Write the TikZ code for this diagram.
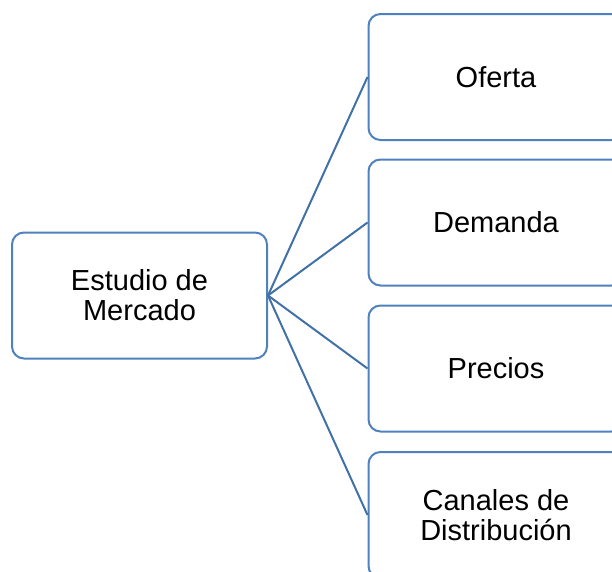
\documentclass[tikz,border=0pt]{standalone}
\usepackage{fontspec}
\setmainfont{Liberation Sans}
\usepackage{xcolor}
\definecolor{ramablue}{RGB}{79,129,189}
\definecolor{lineablue}{RGB}{65,113,165}

\tikzset{
  caja/.style={draw=ramablue, line width=2pt, rounded corners=12pt, fill=white,
    minimum width=255pt, minimum height=126pt, align=center,
    font=\fontsize{29}{30}\selectfont},
  rama/.style={draw=lineablue, line width=2pt}
}

\begin{document}
\begin{tikzpicture}[x=1pt,y=-1pt]
		\useasboundingbox (0,0) rectangle (612,571);

		\node[caja] (estudio) at (139.5,295.5) {Estudio de\\Mercado};

		\node[caja] (oferta) at (496,77) {Oferta};
		\node[caja] (demanda) at (496,222.5) {Demanda};
		\node[caja] (precios) at (496,368.5) {Precios};
		\node[caja] (canales) at (496,515) {Canales de\\Distribución};

		\draw[rama] (estudio.east) -- (oferta.west);
		\draw[rama] (estudio.east) -- (demanda.west);
		\draw[rama] (estudio.east) -- (precios.west);
		\draw[rama] (estudio.east) -- (canales.west);
\end{tikzpicture}
\end{document}
